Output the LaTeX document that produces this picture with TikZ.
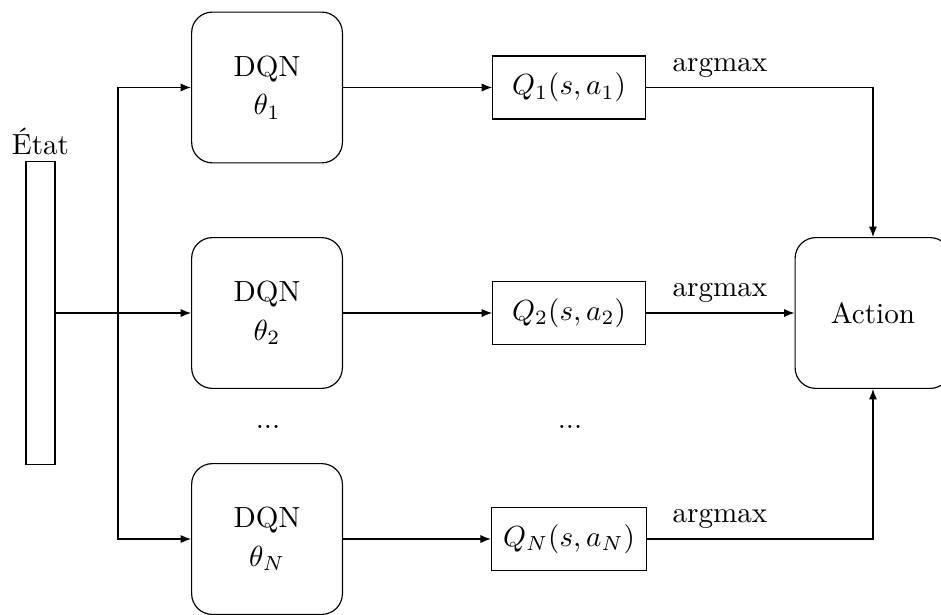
\documentclass[tikz,border=0pt]{standalone}
\usepackage{amsmath}
\usepackage{tikz}
\usetikzlibrary{arrows.meta}

\begin{document}
\begin{tikzpicture}[
        dqn/.style = {draw, rounded corners=0.25cm, minimum width=1.82cm, minimum height=1.82cm, align=center},
        qval/.style = {draw, inner xsep=4pt, minimum width=1.84cm, minimum height=0.76cm},
        arr/.style = {-{Latex[length=3.6pt, width=2.8pt]}}
    ]
        \useasboundingbox (0, 0) rectangle (11.358, 7.423);

        % input
        \node[draw, minimum width=0.35cm, minimum height=3.66cm] (state) at (0.489, 3.645) {};
        \node[above, inner sep=2pt] (etat) at (state.north) {État};
        \coordinate (split) at (1.424, 3.645);

        % networks
        \node[dqn] (dqn1) at (3.223, 6.367) {DQN\\[1.3pt]$\theta_1$};
        \node[dqn] (dqn2) at (3.223, 3.645) {DQN\\[1.3pt]$\theta_2$};
        \node[dqn] (dqnN) at (3.223, 0.917) {DQN\\[1.3pt]$\theta_N$};
        \node (dotsA) at (3.235, 2.269) {...};

        % q values
        \node[qval] (q1) at (6.868, 6.367) {$Q_1(s, a_1)$};
        \node[qval] (q2) at (6.868, 3.645) {$Q_2(s, a_2)$};
        \node[qval] (qN) at (6.868, 0.917) {$Q_N(s, a_N)$};
        \node (dotsB) at (6.880, 2.269) {...};

        % output
        \node[draw, rounded corners=0.25cm, minimum width=1.88cm, minimum height=1.82cm] (action) at (10.537, 3.645) {Action};

        % connections
        \draw[arr] (state.east) -- (dqn2.west);
        \draw[arr] (split) |- (dqn1.west);
        \draw[arr] (split) |- (dqnN.west);
        \draw[arr] (dqn1) -- (q1);
        \draw[arr] (dqn2) -- (q2);
        \draw[arr] (dqnN) -- (qN);
        \draw[arr] (q1.east) -| (action.north);
        \draw[arr] (q2) -- (action);
        \draw[arr] (qN.east) -| (action.south);

        \node[above] (am1) at (8.690, 6.367) {argmax};
        \node[above] (am2) at (8.690, 3.645) {argmax};
        \node[above] (amN) at (8.690, 0.917) {argmax};
    \end{tikzpicture}
\end{document}
